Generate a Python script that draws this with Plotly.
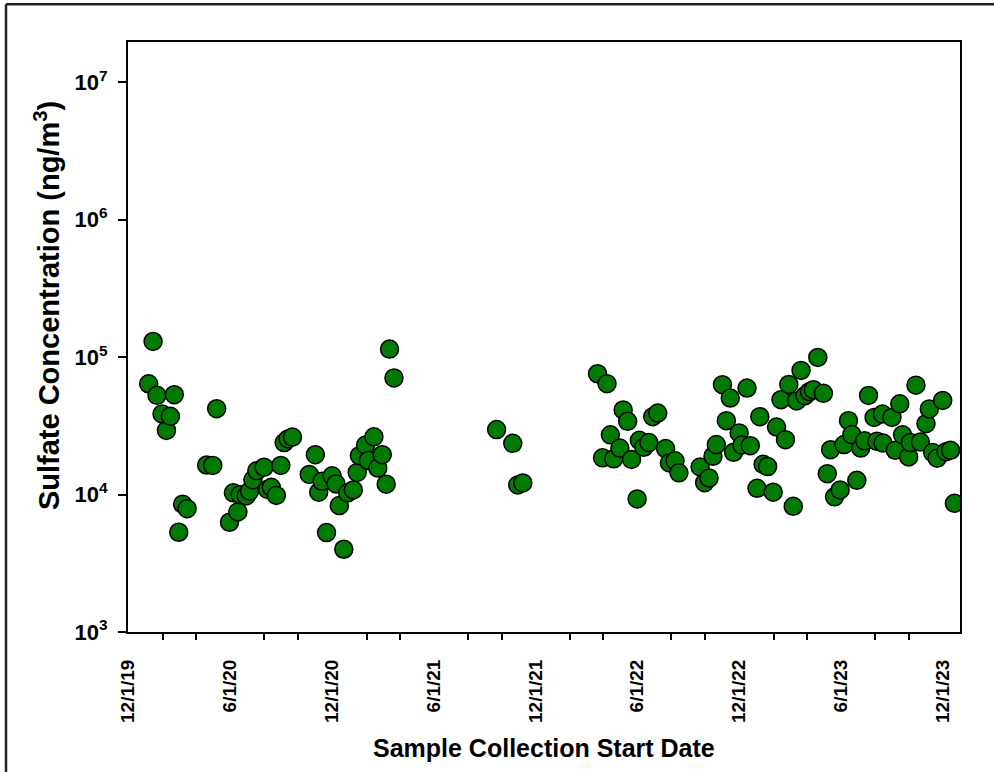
import plotly.graph_objects as go

# ---- data ----
dates = [
    "2020-01-07", "2020-01-15", "2020-01-22", "2020-01-31", "2020-02-08", "2020-02-15", "2020-02-22",
    "2020-03-01", "2020-03-08", "2020-03-16", "2020-04-20", "2020-05-01", "2020-05-08", "2020-05-31",
    "2020-06-07", "2020-06-15", "2020-06-19", "2020-06-30", "2020-07-06", "2020-07-12", "2020-07-19",
    "2020-08-01", "2020-08-07", "2020-08-14", "2020-08-23", "2020-08-31", "2020-09-06", "2020-09-13",
    "2020-09-21", "2020-10-21", "2020-11-01", "2020-11-07", "2020-11-13", "2020-11-21", "2020-12-01",
    "2020-12-08", "2020-12-14", "2020-12-22", "2020-12-29", "2021-01-08", "2021-01-15", "2021-01-19",
    "2021-01-30", "2021-02-04", "2021-02-14", "2021-02-21", "2021-03-01", "2021-03-08", "2021-03-14",
    "2021-03-22",
    "2021-09-22", "2021-10-21", "2021-10-30", "2021-11-08",
    "2022-03-22", "2022-03-31", "2022-04-08", "2022-04-14", "2022-04-20", "2022-05-01", "2022-05-07",
    "2022-05-15", "2022-05-22", "2022-06-01", "2022-06-05", "2022-06-13", "2022-06-22", "2022-06-29",
    "2022-07-08", "2022-07-22", "2022-07-29", "2022-08-08", "2022-08-15", "2022-09-22", "2022-09-30",
    "2022-10-08", "2022-10-15", "2022-10-21", "2022-11-01", "2022-11-08", "2022-11-15", "2022-11-21",
    "2022-12-01", "2022-12-06", "2022-12-15", "2022-12-21", "2023-01-02", "2023-01-07", "2023-01-13",
    "2023-01-21", "2023-01-31", "2023-02-06", "2023-02-14", "2023-02-22", "2023-02-28", "2023-03-08",
    "2023-03-14", "2023-03-22", "2023-03-29", "2023-04-06", "2023-04-13", "2023-04-21", "2023-05-01",
    "2023-05-08", "2023-05-14", "2023-05-21", "2023-05-31", "2023-06-07", "2023-06-15", "2023-06-21",
    "2023-06-30", "2023-07-07", "2023-07-14", "2023-07-21", "2023-07-31", "2023-08-05", "2023-08-15",
    "2023-08-16", "2023-09-01", "2023-09-07", "2023-09-15", "2023-09-20", "2023-10-01", "2023-10-04",
    "2023-10-14", "2023-10-22", "2023-11-01", "2023-11-07", "2023-11-13", "2023-11-21", "2023-12-01",
    "2023-12-07", "2023-12-15", "2023-12-22",
]

sulfate = [
    64000, 130000, 52700, 38600, 29300, 37100, 53300,
    5320, 8520, 7900, 16400, 16300, 42200, 6290,
    10300, 7480, 9990, 9780, 10600, 12800, 14900,
    15800, 10900, 11300, 9860, 16300, 23900, 25400,
    26200, 14000, 19500, 10400, 12500, 5290, 13700,
    11950, 8310, 4000, 10300, 10800, 14500, 19200,
    22900, 17700, 26300, 15600, 19500, 11900, 114500,
    70600,
    29700, 23600, 11750, 12150,
    75700, 18500, 64100, 27200, 18200, 21800, 41300,
    34100, 18000, 9300, 24800, 22100, 23900, 36900,
    39200, 21600, 17000, 17600, 14400, 15900, 12200,
    13200, 19000, 23100, 63000, 34500, 50400, 20300,
    28100, 22900, 59600, 22700, 11100, 36900, 16600,
    16000, 10400, 31000, 49000, 25100, 63300, 8220,
    48000, 80100, 52400, 56000, 57900, 99500, 54500,
    14200, 21200, 9630, 10800, 23100, 34500, 27300,
    12700, 21800, 24600, 52600, 36400, 24400, 38500,
    23700, 36400, 21000, 45700, 27200, 18800, 23900,
    62500, 24100, 32800, 42000, 20200, 18400, 48400,
    20500, 21000, 8640,
]

x_label_dates = ["2019-12-01", "2020-06-01", "2020-12-01", "2021-06-01", "2021-12-01",
                 "2022-06-01", "2022-12-01", "2023-06-01", "2023-12-01"]
x_label_text = ["12/1/19", "6/1/20", "12/1/20", "6/1/21", "12/1/21",
                "6/1/22", "12/1/22", "6/1/23", "12/1/23"]
x_minor_dates = ["2020-02-01", "2020-04-01", "2020-08-01", "2020-10-01",
                 "2021-02-01", "2021-04-01", "2021-08-01", "2021-10-01",
                 "2022-02-01", "2022-04-01", "2022-08-01", "2022-10-01",
                 "2023-02-01", "2023-04-01", "2023-08-01", "2023-10-01"]
y_tick_vals = [1e3, 1e4, 1e5, 1e6, 1e7]
y_tick_text = ["10<sup>3</sup>", "10<sup>4</sup>", "10<sup>5</sup>", "10<sup>6</sup>", "10<sup>7</sup>"]

FONT = "Arial, Liberation Sans, Helvetica, sans-serif"

fig = go.Figure()
fig.add_trace(go.Scatter(
    x=dates, y=sulfate, mode="markers",
    marker=dict(size=18, color="#007a00", line=dict(color="black", width=1.5)),
    showlegend=False,
))

fig.update_layout(
    width=994, height=772,
    margin=dict(l=128, r=34, t=42, b=140),
    paper_bgcolor="white", plot_bgcolor="white",
    font=dict(family=FONT, color="black"),
    xaxis=dict(
        type="date",
        range=["2019-12-01", "2024-01-01"],
        tickmode="array", tickvals=x_label_dates, ticktext=x_label_text,
        tickangle=-90, ticks="", ticklabelstandoff=18,
        tickfont=dict(size=19, family=FONT, weight="bold", color="black"),
        minor=dict(tickmode="array", tickvals=x_minor_dates, ticks="outside",
                   ticklen=6, tickwidth=1.5, tickcolor="black", showgrid=False),
        showgrid=False, zeroline=False,
        showline=True, linecolor="black", linewidth=2, mirror=True,
    ),
    yaxis=dict(
        type="log",
        range=[3, 7.293],
        tickmode="array", tickvals=y_tick_vals, ticktext=y_tick_text,
        ticks="outside", ticklen=8, tickwidth=1.5, tickcolor="black",
        ticklabelstandoff=6,
        tickfont=dict(size=22, family=FONT, weight="bold", color="black"),
        showgrid=False, zeroline=False,
        showline=True, linecolor="black", linewidth=2, mirror=True,
    ),
    annotations=[
        dict(text="Sulfate Concentration (ng/m<sup>3</sup>)", textangle=-90,
             xref="paper", yref="paper", x=-0.0974, y=0.554,
             xanchor="center", yanchor="middle", showarrow=False,
             font=dict(size=29, family=FONT, weight="bold", color="black")),
        dict(text="Sample Collection Start Date",
             xref="paper", yref="paper", x=0.5, y=-0.1966,
             xanchor="center", yanchor="middle", showarrow=False,
             font=dict(size=25, family=FONT, weight="bold", color="black")),
    ],
    shapes=[
        dict(type="line", xref="paper", yref="paper", x0=-0.1466, x1=-0.1466, y0=1.064, y1=-0.3,
             line=dict(color="#222222", width=2.5)),
        dict(type="line", xref="paper", yref="paper", x0=-0.1466, x1=1.05, y0=1.064, y1=1.064,
             line=dict(color="#222222", width=2.5)),
    ],
)

fig.write_html(
    "out.html",
    config={"displayModeBar": False},
    post_script="document.body.style.margin='0';document.body.style.overflow='hidden';",
)
